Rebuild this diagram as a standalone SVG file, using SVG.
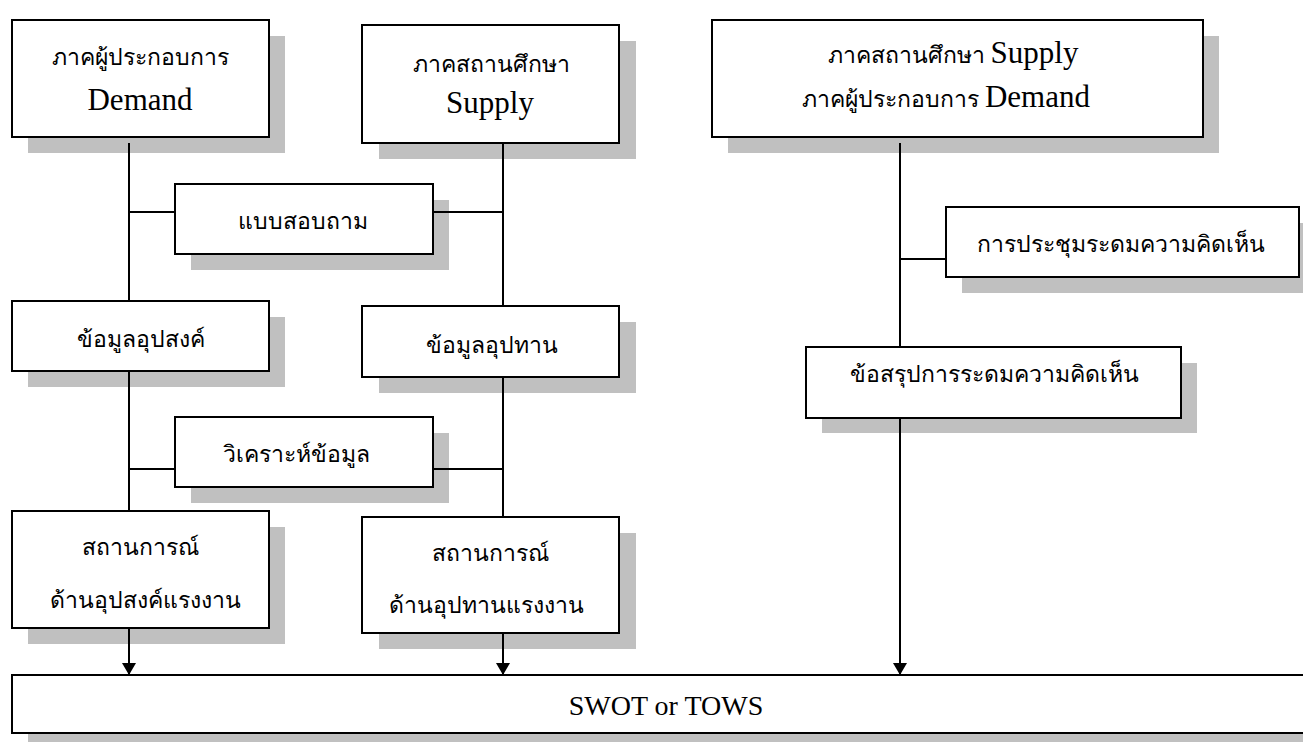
<svg xmlns="http://www.w3.org/2000/svg" width="1303" height="742" viewBox="0 0 1303 742">
<defs>
<style>
.bg{fill:#ffffff}
.sh{fill:#c0c0c0;stroke:none}
.bx{fill:#ffffff;stroke:#000000;stroke-width:2}
.th{font-family:'Noto Sans','Liberation Serif',serif;font-size:23px;fill:#000;text-anchor:middle}
.en{font-family:'Liberation Serif',serif;font-size:31px;fill:#000}
.sw{font-family:'Liberation Serif',serif;font-size:28px;fill:#000;text-anchor:middle}
.ln{stroke:#000;stroke-width:2;fill:none}
</style>
<marker id="ah" viewBox="0 0 12 14" refX="12" refY="7" markerWidth="12" markerHeight="14" markerUnits="userSpaceOnUse" orient="auto">
<path d="M0,0 L12,7 L0,14 Z" fill="#000"/>
</marker>
</defs>
<rect class="bg" x="0" y="0" width="1303" height="742"/>

<g id="n-demand">
<rect class="sh" x="28" y="36" width="257" height="117"/>
<rect class="bx" x="12" y="20" width="257" height="117"/>
<text class="th" x="140" y="65">ภาคผู้ประกอบการ</text>
<text class="en" x="140" y="110" text-anchor="middle">Demand</text>
</g>

<g id="n-supply">
<rect class="sh" x="379" y="41" width="257" height="118"/>
<rect class="bx" x="362" y="25" width="257" height="118"/>
<text class="th" x="491" y="72">ภาคสถานศึกษา</text>
<text class="en" x="490" y="113" text-anchor="middle">Supply</text>
</g>

<g id="n-both">
<rect class="sh" x="728" y="36" width="491" height="117"/>
<rect class="bx" x="712" y="20" width="491" height="117"/>
<text class="th" x="953" y="63">ภาคสถานศึกษา <tspan class="en">Supply</tspan></text>
<text class="th" x="946" y="107">ภาคผู้ประกอบการ <tspan class="en">Demand</tspan></text>
</g>

<g id="n-survey">
<rect class="sh" x="191" y="200" width="258" height="70"/>
<rect class="bx" x="175" y="184" width="258" height="70"/>
<text class="th" x="303" y="229">แบบสอบถาม</text>
</g>

<g id="n-demand-data">
<rect class="sh" x="28" y="317" width="257" height="70"/>
<rect class="bx" x="12" y="301" width="257" height="70"/>
<text class="th" x="141" y="347">ข้อมูลอุปสงค์</text>
</g>

<g id="n-supply-data">
<rect class="sh" x="379" y="322" width="257" height="71"/>
<rect class="bx" x="362" y="306" width="257" height="71"/>
<text class="th" x="492" y="353">ข้อมูลอุปทาน</text>
</g>

<g id="n-analysis">
<rect class="sh" x="191" y="433" width="258" height="70"/>
<rect class="bx" x="175" y="417" width="258" height="70"/>
<text class="th" x="296" y="462">วิเคราะห์ข้อมูล</text>
</g>

<g id="n-demand-situation">
<rect class="sh" x="28" y="527" width="257" height="117"/>
<rect class="bx" x="12" y="511" width="257" height="117"/>
<text class="th" x="140" y="555">สถานการณ์</text>
<text class="th" x="145" y="608">ด้านอุปสงค์แรงงาน</text>
</g>

<g id="n-supply-situation">
<rect class="sh" x="379" y="533" width="257" height="116"/>
<rect class="bx" x="362" y="517" width="257" height="116"/>
<text class="th" x="490" y="561">สถานการณ์</text>
<text class="th" x="486" y="613">ด้านอุปทานแรงงาน</text>
</g>

<g id="n-meeting">
<rect class="sh" x="962" y="223" width="341" height="70"/>
<rect class="bx" x="946" y="207" width="353" height="70"/>
<text class="th" x="1121" y="252">การประชุมระดมความคิดเห็น</text>
</g>

<g id="n-conclusion">
<rect class="sh" x="822" y="363" width="375" height="70"/>
<rect class="bx" x="806" y="347" width="375" height="71"/>
<text class="th" x="994" y="382">ข้อสรุปการระดมความคิดเห็น</text>
</g>

<g id="n-swot">
<rect class="sh" x="28" y="691" width="1300" height="60"/>
<rect class="bx" x="12" y="675" width="1310" height="58"/>
<text class="sw" x="666" y="715">SWOT or TOWS</text>
</g>

<g id="connectors">
<line class="ln" x1="129" y1="143" x2="129" y2="301"/>
<line class="ln" x1="129" y1="212" x2="175" y2="212"/>
<line class="ln" x1="503" y1="143" x2="503" y2="306"/>
<line class="ln" x1="433" y1="212" x2="503" y2="212"/>
<line class="ln" x1="129" y1="371" x2="129" y2="511"/>
<line class="ln" x1="129" y1="469" x2="175" y2="469"/>
<line class="ln" x1="503" y1="377" x2="503" y2="517"/>
<line class="ln" x1="433" y1="469" x2="503" y2="469"/>
<line class="ln" x1="900" y1="143" x2="900" y2="347"/>
<line class="ln" x1="900" y1="259" x2="946" y2="259"/>
<line class="ln" x1="129" y1="628" x2="129" y2="675" marker-end="url(#ah)"/>
<line class="ln" x1="503" y1="633" x2="503" y2="675" marker-end="url(#ah)"/>
<line class="ln" x1="900" y1="418" x2="900" y2="675" marker-end="url(#ah)"/>
</g>
</svg>
